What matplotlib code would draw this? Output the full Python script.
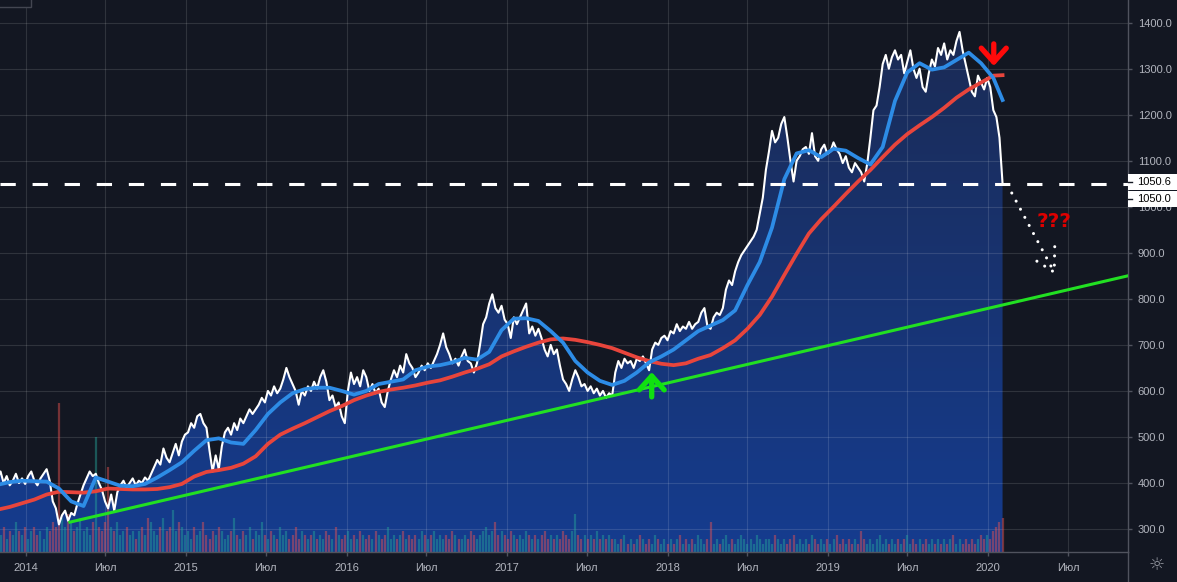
import numpy as np
import pandas as pd
import matplotlib
matplotlib.use("Agg")
import matplotlib.pyplot as plt
import matplotlib.dates as mdates
from matplotlib.colors import LinearSegmentedColormap
from matplotlib.patches import Rectangle
from matplotlib.lines import Line2D
from matplotlib.transforms import blended_transform_factory

plt.rcParams["font.family"] = ["Liberation Sans", "DejaVu Sans"]

# weekly closes
start_date = "2013-10-28"
price = [
    410, 425, 400, 415, 395, 405, 420, 400, 410, 398, 415, 425, 405, 395, 410, 420, 430, 405,
    360, 345, 310, 330, 340, 318, 335, 330,
    355, 375, 395, 410, 425, 415, 420,
    400, 385, 360, 345, 375, 340,
    380, 395, 405, 390, 400, 410, 395, 405, 400, 412, 405, 420,
    435, 450, 440, 475, 455, 445, 465, 485, 460, 490, 505,
    510, 530, 520, 545, 550, 530, 520,
    470, 425, 460, 430,
    480, 510, 520, 505, 530, 515, 540, 530, 545, 560, 550, 560,
    570, 585, 575, 600, 590, 610, 595, 605, 625, 650,
    630, 615, 600, 570, 600, 590, 610, 600, 620, 605, 630, 645, 620,
    580, 590, 565, 575, 545, 530, 600, 640, 615,
    630, 610, 645, 630, 600, 615, 595, 605, 575, 565,
    600, 625, 645, 630, 655, 640, 680, 660, 650, 630, 640, 655, 645,
    660, 650, 665, 680, 700, 725, 695, 680, 660, 670, 655, 675, 690, 665, 660, 640, 660,
    700, 745, 760, 790, 810, 780, 770, 785, 755, 745, 715, 760, 745, 760, 775, 790,
    725, 740, 720, 735, 715, 690, 675, 700, 680, 690, 655, 625, 615, 600, 625, 645,
    630, 610, 615, 600, 610, 595, 605, 590, 600, 585, 595, 590, 640,
    665, 650, 670, 660, 665, 650, 670, 665, 675, 660, 645, 690, 705,
    700, 715, 720, 710, 730, 725, 745, 730, 740, 735, 750, 735, 745,
    750, 770, 780, 740, 735, 760, 770, 765, 780, 820, 840, 830, 860,
    880, 895, 905, 915, 925, 935, 950, 985, 1020, 1080, 1120, 1165, 1140, 1150, 1180, 1195,
    1150, 1100, 1055, 1100,
    1110, 1125, 1130, 1115, 1160, 1110, 1100, 1125, 1135, 1115, 1120, 1140, 1125, 1115, 1095,
    1110, 1085, 1075, 1095, 1085, 1075, 1055, 1095,
    1150, 1210, 1220, 1260, 1310, 1330, 1300, 1325, 1340, 1320,
    1330, 1290, 1315, 1340, 1300, 1280, 1300, 1260, 1250, 1290, 1320, 1305, 1345, 1330, 1355,
    1320, 1340, 1330, 1360, 1380, 1340,
    1310, 1280, 1250, 1240, 1285, 1270, 1255, 1280, 1260, 1210, 1195, 1150, 1050.6,
]

volume = [
    5, 4, 6, 3, 5, 4, 7, 5, 4, 6, 3, 5, 6, 4, 5, 3, 6, 5, 7, 6,
    35,
    8, 6, 9, 7, 5, 6, 8, 5, 6, 4, 7,
    27,
    6, 5, 7,
    20,
    6, 5, 7, 4, 5, 6, 4, 5, 3, 5, 6, 4, 8, 7, 5, 4, 6, 8, 5, 6, 10, 5, 7, 6,
    4, 5, 3, 6, 4, 5, 7, 4, 3, 5, 4, 6, 5, 3, 4, 5, 8, 4, 3, 5,
    4, 6, 3, 5, 4, 7, 4, 3, 5, 4, 3, 6, 4, 5, 3, 4, 6, 3, 5, 4,
    3, 4, 5, 3, 4, 3, 5, 4, 3, 6, 4, 3, 4, 5, 3, 4, 3, 5, 4, 3, 4, 3, 5, 4, 3,
    4, 6, 3, 4, 3, 4, 5, 3, 4, 3, 4, 3, 5, 4, 3, 4, 5, 3, 4, 3, 4, 3, 5, 4, 3,
    3, 4, 3, 5, 4, 3, 4, 5, 6, 4, 5, 7, 4, 5, 4, 3, 5, 4, 3, 4, 3, 5, 4, 3, 4,
    3, 4, 5, 3, 4, 3, 4, 3, 5, 4, 3, 5, 9, 4, 3, 4, 3, 4, 3, 5, 3, 4, 3, 4, 3,
    3, 2, 3, 4, 2, 3, 2, 3, 4, 3, 2, 3, 2, 4, 3, 2, 3, 2, 3, 2, 3, 4, 2, 3, 2,
    3, 2, 4, 3, 2, 3, 7, 2, 3, 2, 3, 4, 2, 3, 2, 3, 4, 3, 2, 3, 2, 4, 3, 2, 3,
    3, 2, 4, 3, 2, 3, 2, 3, 4, 2, 3, 2, 3, 2, 4, 3, 2, 3, 2, 3, 2, 3, 4, 2, 3,
    2, 3, 2, 3, 2, 5, 3, 2, 3, 2, 3, 4, 2, 3, 2, 3, 2, 3, 2, 3, 4, 2, 3, 2, 3,
    2, 3, 2, 3, 2, 3, 2, 3, 2, 3, 4, 2, 3, 2, 3, 2, 3, 2, 3, 4, 3, 4, 3, 5, 6, 7, 8,
]

# moving averages, one value every 4th week plus the last bar
blue_ma = [
    396, 402, 405, 404, 403, 388, 360, 350, 412, 403,
    394, 393, 398, 412, 428, 445, 470, 493, 497, 488,
    485, 515, 550, 575, 595, 604, 607, 607, 600, 592,
    600, 615, 620, 625, 645, 653, 656, 662, 672, 668,
    685, 732, 757, 758, 752, 730, 705, 665, 640, 622,
    613, 622, 640, 662, 675, 690, 710, 730, 742, 754,
    775, 830, 880, 955, 1060, 1116, 1123, 1108, 1126, 1122,
    1106, 1092, 1130, 1230, 1292, 1312, 1298, 1303, 1319, 1335,
    1312, 1280, 1232,
]
red_ma = [
    342, 348, 356, 364, 375, 381, 380, 379, 382, 388,
    387, 386, 386, 387, 391, 398, 414, 424, 428, 433,
    442, 458, 485, 505, 518, 530, 543, 556, 567, 580,
    590, 598, 603, 607, 612, 618, 623, 631, 640, 648,
    658, 675, 686, 696, 705, 712, 714, 711, 706, 700,
    693, 683, 673, 665, 659, 656, 660, 670, 678, 693,
    710, 735, 765, 805, 852, 898, 942, 973, 1000, 1028,
    1055, 1080, 1108, 1135, 1158, 1177, 1195, 1215, 1237, 1255,
    1270, 1285, 1286,
]

trend_dates = ["2014-04-11", "2020-11-14"]
trend_values = [315, 850]
level = 1050
y_ticks = list(range(300, 1401, 100))
x_tick_dates = ["2014-01-01", "2014-07-01", "2015-01-01", "2015-07-01", "2016-01-01",
                "2016-07-01", "2017-01-01", "2017-07-01", "2018-01-01", "2018-07-01",
                "2019-01-01", "2019-07-01", "2020-01-01", "2020-07-01"]
x_tick_labels = ["2014", "Июл", "2015", "Июл", "2016", "Июл", "2017", "Июл",
                 "2018", "Июл", "2019", "Июл", "2020", "Июл"]

dates = pd.date_range(start_date, periods=len(price), freq="7D")
ma_dates = dates[::4].append(dates[-1:])

BG = "#131722"
TXT = "#b2b5be"
AXLINE = "#50535e"

fig = plt.figure(figsize=(11.77, 5.82), dpi=100, facecolor=BG)
ax = fig.add_axes([0, 30 / 582, 1128 / 1177, 552 / 582], facecolor=BG)

x0 = mdates.date2num(pd.Timestamp("2014-01-01")) - 26 / 0.4391
x1 = x0 + 1128 / 0.4391
y0, y1 = 250.1, 1449.3

# area under the price, vertical gradient
area = ax.fill_between(dates, price, y0, facecolor="none", edgecolor="none")
grad = np.linspace(0, 1, 256).reshape(-1, 1)
cmap = LinearSegmentedColormap.from_list("area", ["#153c8f", "#1b2a52"])
im = ax.imshow(grad, cmap=cmap, origin="lower", aspect="auto",
               extent=[x0, x1, y0, y1], zorder=1)
im.set_clip_path(area.get_paths()[0], transform=ax.transData)

# volume at the bottom
up = np.r_[True, np.diff(price) >= 0]
vol_colors = np.where(up, "#26a69a", "#ef5350")
ax.vlines(dates, 0, np.array(volume) / 130, transform=ax.get_xaxis_transform(),
          colors=vol_colors, linewidth=1.6, alpha=0.45, zorder=2)

ax.plot(dates, price, color="white", lw=1.5, zorder=4)
ax.plot(pd.to_datetime(trend_dates), trend_values, color="#22e022", lw=2.2, zorder=5)
ax.plot(ma_dates, red_ma, color="#e8453c", lw=2.7, zorder=5)
ax.plot(ma_dates, blue_ma, color="#2d8ce6", lw=2.7, zorder=6)
ax.axhline(level, color="white", lw=2.2, dashes=(5, 5.5), zorder=7)

# annotations
def dn(s):
    return mdates.date2num(pd.Timestamp(s))

ax.annotate("", xy=(dn("2020-01-14"), 1306), xytext=(dn("2020-01-14"), 1354),
            arrowprops=dict(arrowstyle="->,head_length=0.5,head_width=0.45",
                            color="#ff0a0a", lw=3.8, shrinkA=0, shrinkB=0,
                            mutation_scale=20), zorder=9)
ax.annotate("", xy=(dn("2017-11-26"), 641), xytext=(dn("2017-11-26"), 587),
            arrowprops=dict(arrowstyle="->,head_length=0.5,head_width=0.45",
                            color="#10e010", lw=3.8, shrinkA=0, shrinkB=0,
                            mutation_scale=20), zorder=9)
ax.annotate("", xy=(dn("2020-06-03"), 852), xytext=(dn("2020-02-24"), 1030),
            arrowprops=dict(arrowstyle="->,head_length=0.8,head_width=0.45",
                            color="white", lw=2.2, linestyle=(0, (0.01, 3)),
                            capstyle="round", shrinkA=0, shrinkB=0,
                            mutation_scale=20), zorder=9)
ax.text(dn("2020-05-31"), 969, "???", color="#dd0000", fontsize=14.5,
        fontweight="bold", ha="center", va="center", family="DejaVu Sans", zorder=9)

ax.set_xlim(x0, x1)
ax.set_ylim(y0, y1)

ax.yaxis.tick_right()
ax.set_yticks(y_ticks)
ax.set_yticklabels([f"{v:.1f}" for v in y_ticks])
ax.set_xticks([dn(d) for d in x_tick_dates])
ax.set_xticklabels(x_tick_labels)
ax.tick_params(axis="both", colors=AXLINE, labelcolor=TXT, labelsize=8, length=3, width=1)
ax.tick_params(axis="y", pad=4)
ax.tick_params(axis="x", pad=5)
ax.grid(True, color="white", alpha=0.12, lw=0.8)

for side in ["top", "left"]:
    ax.spines[side].set_visible(False)
for side in ["right", "bottom"]:
    ax.spines[side].set_color(AXLINE)
    ax.spines[side].set_linewidth(1)

# last value labels on the price scale
trans = blended_transform_factory(ax.transAxes, ax.transData)
for yb, txt_y, txt in [(1036.3, 1053, "1050.6"), (999.3, 1017, "1050.0")]:
    ax.add_patch(Rectangle((1.0, yb), 49 / 1128, 34.8, transform=trans, fc="white",
                           ec="none", clip_on=False, zorder=10))
    ax.plot([1.0, 1.0 + 4 / 1128], [txt_y, txt_y], transform=trans, color=BG, lw=1,
            clip_on=False, zorder=11)
    ax.text(1.0 + 9 / 1128, txt_y, txt, transform=trans, color="black", fontsize=8,
            va="center", ha="left", clip_on=False, zorder=11)

fig.add_artist(Line2D([1128 / 1177] * 2, [0, 30 / 582], transform=fig.transFigure,
                      color=AXLINE, lw=1))
fig.add_artist(Rectangle((-6 / 1177, 1 - 7 / 582), 37 / 1177, 20 / 582,
                         transform=fig.transFigure, fc=BG, ec="#434651", lw=1))
fig.text(1157 / 1177, 1 - 565 / 582, "☼", color="#9598a1", fontsize=13,
         ha="center", va="center", family="DejaVu Sans")

fig.savefig("out.png", dpi=100, facecolor=BG)
